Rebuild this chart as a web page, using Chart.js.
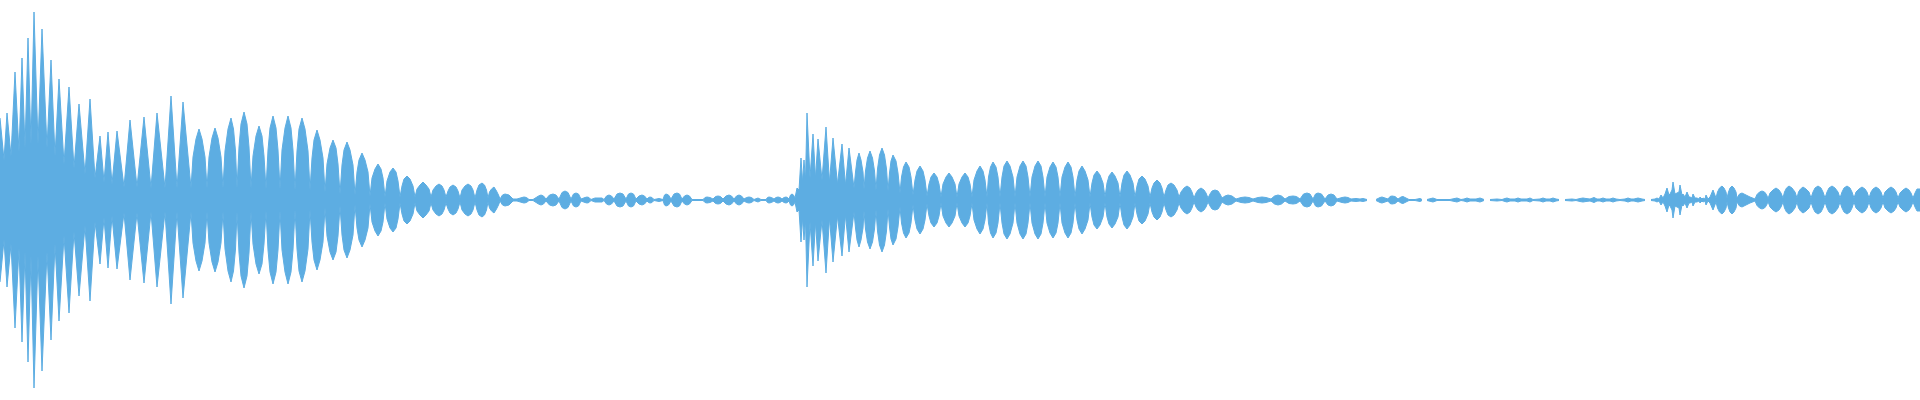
<!DOCTYPE html>
<html>
<head>
<meta charset="utf-8">
<title>Waveform</title>
<script src="https://cdn.jsdelivr.net/npm/chart.js@4/dist/chart.umd.min.js"></script>
<style>
  html, body { margin: 0; padding: 0; background: #fff; overflow: hidden; }
</style>
</head>
<body>
<canvas id="wave" width="1920" height="400"></canvas>
<script>
// envelope of the clip: time (ms) and amplitude (% of full scale), one pair per point
// first hit, spiky attack
const attack1Times = [0, 4, 7, 11, 15, 19, 22, 25, 28, 31,
  34, 38, 42, 47, 51, 55, 59, 64, 69, 74,
  79, 85, 90, 95, 100, 104, 108, 112, 117, 124,
  130, 137, 144, 151, 157, 165, 171, 177, 183, 191];
const attack1Amps = [41, 20, 43.5, 22, 64, 24, 71, 26, 81, 28,
  94, 28, 85.5, 26, 70, 22, 60.5, 18, 56.5, 16,
  48, 13, 50.5, 11, 32, 9, 34, 8, 34.5, 6.5,
  40, 6.5, 41.5, 6, 43.5, 6, 52, 6, 49, 6];

// first hit, ringing decay (one row per lobe)
const decay1Times = [193, 196, 199, 202, 205, 207,
  209, 212, 215, 218, 221, 223,
  225, 228, 231, 233.5, 235.5, 237,
  239, 241, 244, 247, 249, 251,
  253, 256, 259, 262, 264, 266,
  268, 270, 273, 276, 278, 280,
  282, 285, 288, 291, 293, 295,
  297, 299, 302, 305, 308, 310,
  312, 314, 317, 320, 323, 325,
  327, 330, 333, 336, 338, 340,
  342, 344, 347, 350, 353, 355,
  357, 359, 362, 365, 368, 370,
  372, 375, 378, 381, 383, 385,
  387, 390, 393, 396, 398, 400,
  402, 404, 407, 410, 413, 415,
  417, 420, 423, 426, 429, 431,
  433, 436, 439, 442, 444, 446,
  448, 450, 453, 456, 458, 460,
  462, 465, 468, 471, 473, 475,
  477, 479, 482, 484.5, 486.5, 488,
  489.5, 491.5, 494, 496.5, 498.5, 500];
const decay1Amps = [21.5, 30.5, 35.5, 30.5, 21.5, 6,
  21.5, 31, 36, 31, 21.5, 6,
  24.5, 35.5, 41, 35.5, 24.5, 6,
  26.5, 38, 44, 38, 26.5, 6,
  22, 32, 37, 32, 22, 5.5,
  25, 36, 42, 36, 25, 5.5,
  25, 36, 42, 36, 25, 5,
  24.5, 35.5, 41, 35.5, 24.5, 5,
  21, 30, 35, 30, 21, 4,
  18, 26, 30, 26, 18, 3,
  17.5, 25, 29, 25, 17.5, 2.5,
  14, 20, 23.5, 20, 14, 2,
  11, 15.5, 18, 15.5, 11, 1.5,
  9.5, 14, 16, 14, 9.5, 1.5,
  7, 10.5, 12, 10.5, 7, 1.5,
  5.5, 7.5, 9, 7.5, 5.5, 1.5,
  5, 7, 8, 7, 5, 1.5,
  4.5, 6.5, 7.5, 6.5, 4.5, 1,
  5, 7, 8, 7, 5, 1,
  5, 7.5, 8.5, 7.5, 5, 1,
  4, 5.5, 6.5, 4.5, 2.5, 0.5];

// quiet stretch between hits
const quiet1Times = [502.5, 505, 509, 513,
  517,
  522, 524, 526.5, 529,
  533,
  538.5, 541, 543.5, 546,
  549.5, 553, 556, 559,
  562, 565, 568, 571,
  573.5, 576, 578.5, 581,
  585, 587, 589, 591,
  595, 602, 604,
  606.5, 609, 611.5, 614,
  617, 620, 623, 626,
  628.5, 631, 633.5, 636,
  639, 642, 644.5, 647,
  648.5, 650, 652, 654,
  659, 663,
  664.5, 666, 668.5, 671,
  674, 677, 679.5, 682,
  684.5, 687, 689.5, 692,
  703,
  705, 707, 710, 713,
  715.5, 718, 720.5, 723,
  726, 729, 731.5, 734,
  736.5, 739, 741.5, 744,
  746.5, 749, 751.5, 754,
  758, 761, 766,
  767.5, 769, 771.5, 774,
  776, 778, 780, 782,
  784, 786, 787.5, 789,
  790.5, 792, 793.5, 795];
const quiet1Amps = [2.5, 3, 2.5, 0.5,
  0.5,
  1.25, 1.5, 1.25, 0.25,
  0.25,
  2, 2.5, 2, 0.5,
  2.5, 3, 2.5, 0.5,
  3.75, 4.5, 3.75, 0.5,
  3, 3.5, 3, 0.5,
  1.25, 1.5, 1.25, 0.25,
  1, 1, 0.25,
  2, 2.5, 2, 0.5,
  3, 3.5, 3, 0.5,
  3, 3.5, 3, 0.5,
  2, 2.5, 2, 0.5,
  1.25, 1.5, 1.25, 0.25,
  0.75, 0.25,
  2.5, 3, 2.5, 0.5,
  3, 3.5, 3, 0.5,
  2, 2.5, 2, 0.25,
  0.25,
  1.25, 1.5, 1.25, 0.5,
  1.75, 2, 1.75, 0.5,
  2, 2.5, 2, 0.5,
  2, 2.5, 2, 0.5,
  1.25, 1.5, 1.25, 0.25,
  1, 0.25, 0.25,
  1.25, 1.5, 1.25, 0.5,
  1.25, 1.5, 1.25, 0.5,
  1.25, 1.5, 1.25, 0.5,
  2.5, 3, 2.5, 1];

// second hit, attack
const attack2Times = [797, 799, 801, 802.5, 804, 805.5, 807, 810, 813, 815.5,
  818, 822, 826, 829.5, 833, 837.5, 842, 845.5, 849, 854];
const attack2Amps = [6, 5, 21, 9, 20, 10, 43.5, 11, 33, 11,
  30.5, 10, 36.5, 9, 31, 8, 28, 7.5, 26, 6];

// second hit, ringing decay (one row per lobe)
const decay2Times = [855.5, 857, 859, 861, 863, 864,
  865.5, 867.5, 870, 872.5, 874.5, 876,
  877.5, 879.5, 882, 884.5, 886.5, 888,
  889.5, 891, 893, 896, 898, 900,
  901.5, 903.5, 906, 909, 911, 913,
  915, 917, 920, 923, 925, 927,
  929, 931, 934, 937, 939, 941,
  943, 946, 949, 952, 955, 957,
  959, 962, 965, 968, 970, 972,
  974, 977, 980, 983, 985, 987,
  988.5, 990.5, 993, 996, 998, 1000,
  1002, 1004, 1007, 1010, 1013, 1015,
  1017, 1020, 1023, 1026, 1028, 1030,
  1032, 1035, 1038, 1041, 1043, 1045,
  1047, 1050, 1053, 1056, 1058, 1060,
  1062, 1065, 1068, 1071, 1073, 1075,
  1077, 1079, 1082, 1085, 1088, 1090,
  1092, 1094, 1097, 1100, 1103, 1105,
  1107, 1109, 1112, 1115, 1118, 1120,
  1122, 1124, 1127, 1130, 1133, 1135,
  1137, 1139, 1142, 1145, 1148, 1150,
  1152, 1154, 1157, 1160, 1162, 1164,
  1166, 1168, 1171, 1174, 1177, 1179,
  1181, 1184, 1187, 1190, 1192, 1194,
  1196, 1198, 1201, 1204, 1206, 1208,
  1210, 1212, 1215, 1218, 1220, 1222,
  1225, 1228, 1232, 1236,
  1241, 1245, 1249, 1253,
  1258, 1262, 1266, 1271,
  1274.5, 1278, 1281.5, 1285,
  1289, 1293, 1296.5, 1300,
  1303.5, 1307, 1310, 1313,
  1315.5, 1318, 1321.5, 1325,
  1328, 1331, 1334, 1337,
  1342, 1345, 1348, 1351];
const decay2Amps = [14, 20, 23.5, 20, 14, 5.5,
  14.5, 21, 24.5, 21, 14.5, 5,
  15.5, 22.5, 26, 22.5, 15.5, 4.5,
  13.5, 19.5, 22.5, 19.5, 13.5, 3.5,
  11.5, 16.5, 19, 16.5, 11.5, 2.5,
  10, 14.5, 17, 14.5, 10, 2,
  8, 11.5, 13.5, 11.5, 8, 1.5,
  8, 11.5, 13.5, 11.5, 8, 1.5,
  8, 11.5, 13.5, 11.5, 8, 1.5,
  10, 14.5, 17, 14.5, 10, 1.5,
  11.5, 16.5, 19, 16.5, 11.5, 1.5,
  11.5, 17, 19.5, 17, 11.5, 1.5,
  11.5, 17, 19.5, 17, 11.5, 1.5,
  11.5, 17, 19.5, 17, 11.5, 1.5,
  11.5, 16.5, 19, 16.5, 11.5, 1.5,
  11.5, 16.5, 19, 16.5, 11.5, 1.5,
  10, 14.5, 17, 14.5, 10, 1.5,
  8.5, 12.5, 14.5, 12.5, 8.5, 1.5,
  8.5, 12, 14, 12, 8.5, 1.5,
  8.5, 12.5, 14.5, 12.5, 8.5, 1.5,
  7, 10.5, 12, 10.5, 7, 1.5,
  6, 8.5, 10, 8.5, 6, 1.5,
  5, 7.5, 8.5, 7.5, 5, 1.5,
  4, 6, 7, 6, 4, 1,
  3.5, 5, 6, 5, 3.5, 1,
  3, 4.5, 5, 4.5, 3, 1,
  2, 2.5, 2, 0.5,
  1.25, 1.5, 1.25, 0.5,
  1.25, 1.5, 1.25, 0.5,
  2, 2.5, 2, 0.5,
  1.75, 2, 1.75, 0.5,
  3, 3.5, 3, 0.5,
  3, 3.5, 3, 0.5,
  2.5, 3, 2.5, 0.5,
  1.25, 1.5, 1.25, 0.5];

// near silence, null = no signal
const quiet2Times = [1356, 1360, 1363, 1367, 1371, 1376, 1380, 1382, 1385, 1388,
  1390, 1392, 1395, 1398, 1401, 1403, 1406, 1409, 1415, 1420,
  1422, 1424, 1427, 1433, 1437, 1450, 1457, 1461, 1464, 1467,
  1470, 1476, 1480, 1484, 1487, 1490, 1497, 1502, 1505, 1507,
  1510, 1515, 1518, 1521, 1527, 1530, 1533, 1540, 1543, 1546,
  1550, 1553, 1556, 1559, 1562, 1565, 1572, 1576, 1580, 1583,
  1586, 1590, 1594, 1597];
const quiet2Amps = [0.75, 0.5, 0.75, 0.25, null, 0.25, 1.25, 1.5, 1, 0.5,
  1.75, 2, 1.75, 0.5, 1.5, 1.75, 1, 0.25, 0.25, 0.75,
  0.25, null, 0.25, 1, 0.25, 0.25, 1, 0.25, 0.5, 1,
  0.5, 0.5, 1, 0.25, null, 0.25, 0.5, 0.25, 0.75, 1,
  0.5, 0.5, 1, 0.5, 0.5, 1, 0.25, 0.5, 1, 0.5,
  0.5, 1, 0.5, 0.25, null, 0.25, 0.5, 0.25, 0.75, 1,
  0.75, 0.5, 1.25, 0.5];

// third hit and its sustained tail
const tailTimes = [1600, 1603, 1606, 1610, 1613, 1616, 1620, 1625, 1628, 1631,
  1634, 1638, 1642, 1645, 1648, 1651, 1655, 1657, 1659, 1661,
  1663, 1665, 1667, 1669, 1670, 1672, 1673, 1675, 1677, 1679,
  1680, 1682, 1683, 1685, 1687, 1689, 1690, 1692, 1693, 1695,
  1697, 1699, 1700, 1702, 1703, 1705, 1706, 1708, 1710, 1713,
  1716,
  1717.5, 1719.5, 1722, 1724, 1726, 1727,
  1728.5, 1730, 1732, 1734, 1736, 1737,
  1739.5, 1742, 1746, 1750, 1755,
  1757, 1759.5, 1762, 1764.5, 1766.5, 1768,
  1770, 1773, 1776, 1779, 1781, 1783,
  1784.5, 1786.5, 1789, 1792, 1795, 1797,
  1798.5, 1800.5, 1803, 1806, 1809, 1811,
  1813, 1815, 1818, 1821, 1823, 1825,
  1827, 1829, 1832, 1835, 1838, 1840,
  1842, 1844, 1847, 1850, 1852, 1854,
  1856, 1859, 1862, 1865, 1867, 1869,
  1871, 1873, 1876, 1879, 1881, 1883,
  1885, 1888, 1891, 1894, 1896, 1898,
  1900, 1903, 1906, 1909, 1911, 1913,
  1915, 1917, 1920];
const tailAmps = [0.5, 1, 0.5, 0.5, 1, 0.5, 0.25, 0.5, 1, 0.5,
  0.5, 1, 0.5, 0.25, null, 0.25, 0.5, 1, 0.5, 2.5,
  1, 3, 6, 2.5, 3, 5, 9, 3, 3.5, 4,
  7.5, 2.5, 3, 1.5, 4, 1.5, 1.5, 1, 3, 1,
  1, 0.5, 1.5, 0.5, 1, 0.5, 2.5, 0.5, 1.5, 5,
  1,
  4, 6, 7, 6, 4, 1,
  4, 6, 7, 6, 4, 1,
  3, 3.5, 2.5, 1.5, 0.5,
  2.75, 4, 4.5, 4, 2.75, 0.75,
  3.5, 5, 6, 5, 3.5, 1,
  4, 6, 7, 6, 4, 1,
  4, 5.5, 6.5, 5.5, 4, 1,
  4, 6, 7, 6, 4, 1,
  4, 6, 7, 6, 4, 1,
  4, 6, 7, 6, 4, 1,
  4, 5.5, 6.5, 5.5, 4, 1,
  4, 5.5, 6.5, 5.5, 4, 1,
  4, 5.5, 6.5, 5.5, 4, 1,
  3.5, 5, 6, 5, 3.5, 1,
  3.5, 5.5, 5.5];

const times = [...attack1Times, ...decay1Times, ...quiet1Times, ...attack2Times,
  ...decay2Times, ...quiet2Times, ...tailTimes];
const amps = [...attack1Amps, ...decay1Amps, ...quiet1Amps, ...attack2Amps,
  ...decay2Amps, ...quiet2Amps, ...tailAmps];

const waveBlue = "rgb(93, 173, 226)";

// top edge and mirrored bottom edge of the waveform
const upper = times.map((t, i) => ({ x: t, y: amps[i] }));
const lower = times.map((t, i) => ({ x: t, y: amps[i] === null ? null : -amps[i] }));

const ctx = document.getElementById("wave").getContext("2d");
new Chart(ctx, {
  type: "line",
  data: {
    datasets: [
      {
        data: upper,
        borderColor: waveBlue,
        borderWidth: 1,
        pointRadius: 0,
        fill: false,
      },
      {
        data: lower,
        borderColor: waveBlue,
        backgroundColor: waveBlue,
        borderWidth: 1,
        pointRadius: 0,
        fill: "-1",
      },
    ],
  },
  options: {
    responsive: false,
    animation: false,
    spanGaps: false,
    layout: { padding: 0 },
    elements: { line: { tension: 0 } },
    plugins: { legend: { display: false }, tooltip: { enabled: false } },
    scales: {
      x: { type: "linear", min: 0, max: 1920, display: false },
      y: { min: -100, max: 100, display: false },
    },
  },
});
</script>
</body>
</html>
